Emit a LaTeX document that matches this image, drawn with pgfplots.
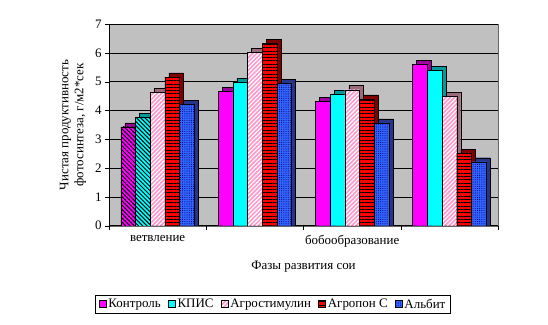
\documentclass[border=0pt]{standalone}
\usepackage{pgfplots}
\pgfplotsset{compat=1.18}
\usepackage{pgfplotstable}
\usepackage{fontspec}
\setmainfont{Liberation Serif}
\usetikzlibrary{patterns,patterns.meta}

\definecolor{bgGray}{HTML}{C0C0C0}
\definecolor{cMag}{HTML}{FF00FF}
\definecolor{cMagS}{HTML}{A000A0}
\definecolor{cCyan}{HTML}{00FFFF}
\definecolor{cCyanS}{HTML}{009A9A}
\definecolor{cPink}{HTML}{FF99CC}
\definecolor{cPinkS}{HTML}{9A6A78}
\definecolor{cRed}{HTML}{FF0000}
\definecolor{cRedS}{HTML}{800000}
\definecolor{cBlue}{HTML}{3366FF}
\definecolor{cBlueS}{HTML}{26348A}
\definecolor{cNavy}{HTML}{000080}

\pgfplotstableread{
g   v1   v2   v3   v4   v5
0.5 3.43 3.77 4.63 5.16 4.21
1.5 4.67 4.98 6.02 6.32 4.95
2.5 4.32 4.56 4.72 4.40 3.57
3.5 5.60 5.39 4.49 2.51 2.22
}\data

\pgfplotstableread{
g   v1   v2
0.5 3.43 3.77
}\firstgroup

\pgfplotsset{
  legsq/.style={legend image code/.code={\draw[##1,draw=black] (0bp,-3.5bp) rectangle (7bp,3.5bp);}},
}

\begin{document}
\begin{tikzpicture}[font=\fontsize{13}{15}\selectfont]
\path[use as bounding box] (-109bp,-99.3bp) rectangle (439bp,225.7bp);
\begin{axis}[
  at={(0bp,0bp)}, anchor=south west,
  scale only axis, width=389bp, height=201.7bp,
  xmin=0, xmax=4, ymin=0, ymax=7,
  ybar, bar width=14.7bp,
  xtick={0.5,2.5}, xticklabels={ветвление,бобообразование},
  xticklabel style={yshift=-2bp},
  major x tick style={draw=none},
  minor xtick={0,1,2,3,4},
  minor x tick style={black},
  ytick={0,1,2,3,4,5,6,7},
  ymajorgrids, grid style={black, line width=0.6pt},
  axis x line*=bottom, axis y line*=left,
  axis line style={black, line width=0.8pt},
  tick align=outside,
  major tick length=4bp, minor tick length=4bp,
  y tick style={black},
  axis background/.style={fill=bgGray, draw=gray!80!black},
  xlabel={Фазы развития сои},
  xlabel style={yshift=-7bp},
  ylabel={Чистая продуктивность\\фотосинтеза, г/м2*сек},
  ylabel style={align=center, yshift=2bp},
  legend style={at={(0.4216,-0.39)}, anchor=center, legend columns=-1,
    draw=black, line width=0.8pt, inner xsep=3bp, inner ysep=2bp,
    /tikz/every even column/.append style={column sep=5bp},
    font=\fontsize{13}{15}\selectfont},
  legend cell align=left,
  /pgf/number format/assume math mode=true,
]
% depth (side/top) faces
\addplot[forget plot, bar shift=-25.4bp, fill=cMagS, draw=black] table[x=g, y expr=\thisrow{v1}+0.14]{\data};
\addplot[forget plot, bar shift=-10.7bp, fill=cCyanS, draw=black] table[x=g, y expr=\thisrow{v2}+0.14]{\data};
\addplot[forget plot, bar shift=4bp, fill=cPinkS, draw=black] table[x=g, y expr=\thisrow{v3}+0.14]{\data};
\addplot[forget plot, bar shift=18.7bp, fill=cRedS, draw=black] table[x=g, y expr=\thisrow{v4}+0.14]{\data};
\addplot[forget plot, bar shift=33.4bp, fill=cBlueS, draw=black] table[x=g, y expr=\thisrow{v5}+0.14]{\data};
% front faces
\addplot[legsq, bar shift=-29.4bp, fill=cMag, draw=black] table[x=g, y=v1]{\data};
\addplot[legsq, bar shift=-14.7bp, fill=cCyan, draw=black] table[x=g, y=v2]{\data};
\addplot[legsq, bar shift=0bp, fill=cPink, draw=black,
  postaction={pattern={Lines[angle=45,distance=3bp,line width=1.1bp]}, pattern color=white}] table[x=g, y=v3]{\data};
\addplot[legsq, bar shift=14.7bp, fill=cRed, draw=black,
  postaction={pattern={Lines[angle=0,distance=3.3bp,line width=1bp]}, pattern color=black}] table[x=g, y=v4]{\data};
\addplot[legsq, bar shift=29.4bp, fill=cBlue, draw=black,
  postaction={pattern={Dots[distance=2.2bp,radius=0.55bp]}, pattern color=cNavy}] table[x=g, y=v5]{\data};
% hatching on the first group of Контроль and КПИС
\addplot[forget plot, bar shift=-29.4bp, fill=cMag, draw=black,
  postaction={pattern={Lines[angle=-45,distance=3bp,line width=1bp]}, pattern color=black}] table[x=g, y=v1]{\firstgroup};
\addplot[forget plot, bar shift=-14.7bp, fill=cCyan, draw=black,
  postaction={pattern={Lines[angle=-45,distance=3bp,line width=1bp]}, pattern color=black}] table[x=g, y=v2]{\firstgroup};
\legend{Контроль, КПИС, Агростимулин, Агропон С, Альбит}
\end{axis}
\end{tikzpicture}
\end{document}
